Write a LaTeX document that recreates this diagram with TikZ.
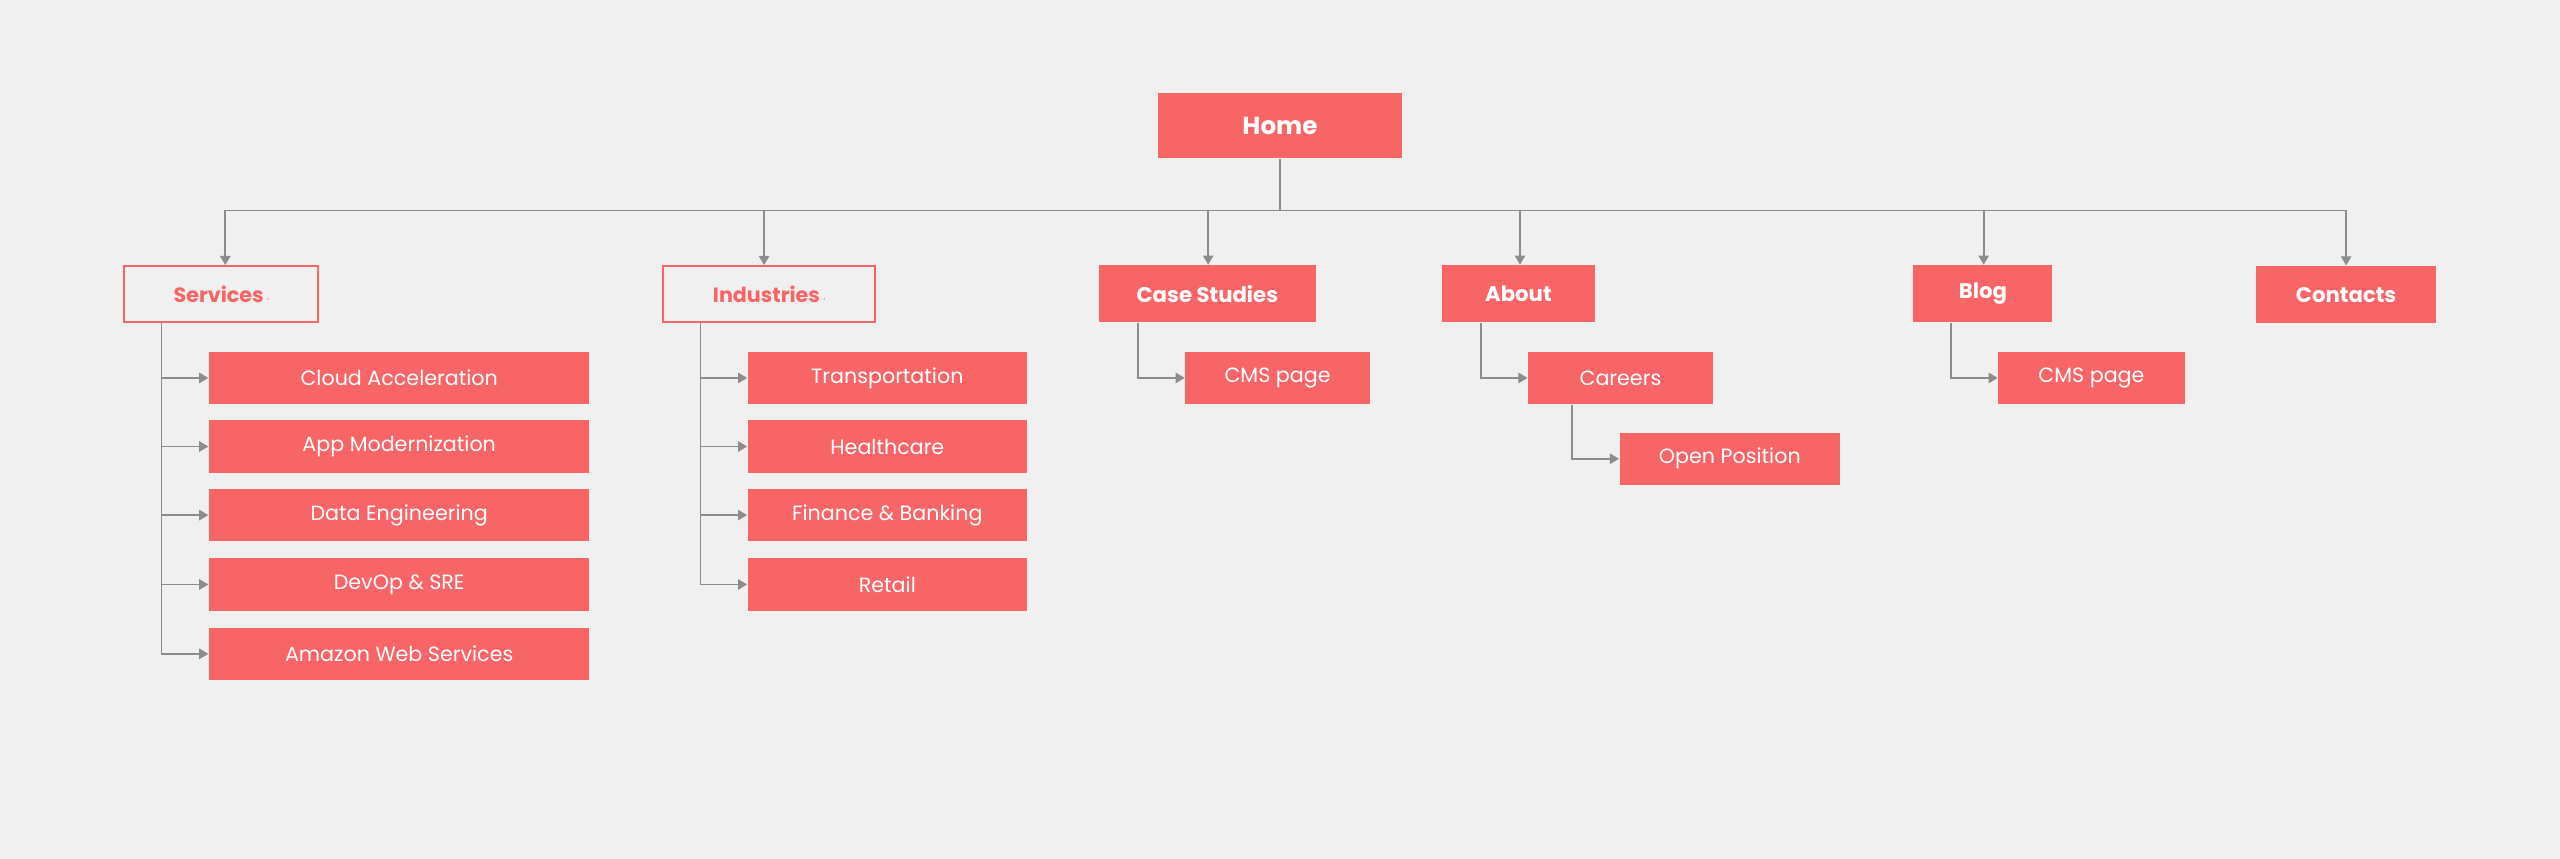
\documentclass[tikz,border=0pt]{standalone}
\usepackage{fontspec}
\setmainfont{Poppins}
\usetikzlibrary{arrows.meta}
\definecolor{bg}{HTML}{F0F0F0}
\definecolor{pk}{HTML}{F76567}
\definecolor{ln}{HTML}{8C8C8C}
\tikzset{
 box/.style={fill=pk,draw=none,text=white,inner sep=0pt,font=\fontsize{7.2}{8}\selectfont},
 top/.style={box,font=\bfseries\fontsize{7.4}{8}\selectfont},
 obox/.style={draw=pk,line width=0.7pt,fill=bg,text=pk,inner sep=0pt,font=\bfseries\fontsize{7.2}{8}\selectfont},
 con/.style={draw=ln,line width=0.6pt},
 arr/.style={con,-{Triangle[length=3.2pt,width=3.6pt]}},
}
\newcommand{\chev}{\,\tikz[baseline=-1pt]\draw[pk,line width=0.5pt](0,0.05)--(0.07,-0.02)--(0.14,0.05);}
\begin{document}
\begin{tikzpicture}[x=0.02cm,y=-0.02cm]
\fill[bg] (0,0) rectangle (1568,526);
\useasboundingbox (0,0) rectangle (1568,526);
\node[top,minimum width=150*0.02cm,minimum height=40*0.02cm,font=\bfseries\fontsize{8.6}{9}\selectfont] (home) at (784,77) {Home};
\node[obox,minimum width=119*0.02cm,minimum height=34*0.02cm] (serv) at (135.5,180) {Services\chev};
\node[obox,minimum width=130*0.02cm,minimum height=34*0.02cm] (ind) at (471,180) {Industries\chev};
\node[top,minimum width=133*0.02cm,minimum height=35*0.02cm] (cs) at (739.5,180) {Case Studies};
\node[top,minimum width=94*0.02cm,minimum height=35*0.02cm] (about) at (930,180) {About};
\node[top,minimum width=85*0.02cm,minimum height=35*0.02cm] (blog) at (1214.5,180) {Blog};
\node[top,minimum width=110*0.02cm,minimum height=35*0.02cm] (cont) at (1437,180.5) {Contacts};
\coordinate (hb) at (784,129);
\draw[con] (home.south) -- (hb);
\foreach \n/\x in {serv/138,ind/468,cs/740,about/931,blog/1215,cont/1437}{
  \draw[arr] (hb) -| (\x,129) -- (\n.north -| \x,0);
}
% services children
\foreach \t/\y [count=\i] in {Cloud Acceleration/231.5,App Modernization/273.5,Data Engineering/315.5,DevOp \& SRE/358,Amazon Web Services/400.5}{
  \node[box,minimum width=233*0.02cm,minimum height=32*0.02cm] (s\i) at (244.5,\y) {\t};
  \draw[arr] (serv.south -| 99,0) |- (s\i.west);
}
\foreach \t/\y [count=\i] in {Transportation/231.5,Healthcare/273.5,Finance \& Banking/315.5,Retail/358}{
  \node[box,minimum width=171*0.02cm,minimum height=32*0.02cm] (d\i) at (543.5,\y) {\t};
  \draw[arr] (ind.south -| 429,0) |- (d\i.west);
}
\node[box,minimum width=113*0.02cm,minimum height=32*0.02cm] (cms1) at (782.5,231.5) {CMS page};
\draw[arr] (cs.south -| 697,0) |- (cms1.west);
\node[box,minimum width=113*0.02cm,minimum height=32*0.02cm] (car) at (992.5,231.5) {Careers};
\draw[arr] (about.south -| 907,0) |- (car.west);
\node[box,minimum width=135*0.02cm,minimum height=32*0.02cm] (op) at (1059.5,281) {Open Position};
\draw[arr] (car.south -| 963,0) |- (op.west);
\node[box,minimum width=114*0.02cm,minimum height=32*0.02cm] (cms2) at (1281,231.5) {CMS page};
\draw[arr] (blog.south -| 1195,0) |- (cms2.west);
\end{tikzpicture}
\end{document}
